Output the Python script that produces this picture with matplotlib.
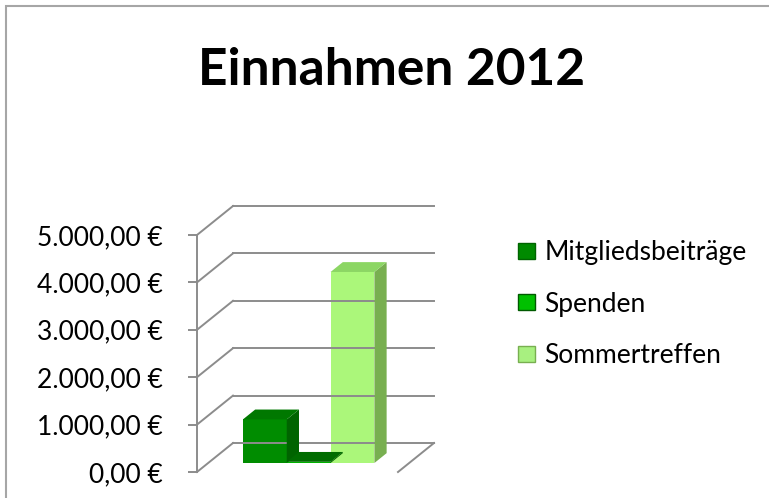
import numpy as np
import matplotlib
matplotlib.use("Agg")
import matplotlib.pyplot as plt
import matplotlib.patches as mpatches
from matplotlib import transforms

# data
series = ["Mitgliedsbeiträge", "Spenden", "Sommertreffen"]
values = [920, 25, 4030]
yticks = [0, 1000, 2000, 3000, 4000, 5000]
ytick_labels = ["0,00 €", "1.000,00 €", "2.000,00 €", "3.000,00 €", "4.000,00 €", "5.000,00 €"]

front_col = ["#008c00", "#00b400", "#abf77a"]
top_col = ["#007800", "#006c00", "#8cd664"]
side_col = ["#006400", "#005a00", "#78af50"]
legend_col = ["#008a00", "#00c000", "#a8f080"]

plt.rcParams["font.family"] = ["Lato", "DejaVu Sans"]

W, H = 769, 498
fig = plt.figure(figsize=(W / 100, H / 100), dpi=100)

# front plane of the 3d box (pixels): x 197..398, value 0 at y=472, 5000 at y=235
ax = fig.add_axes([197 / W, (H - 472) / H, 201 / W, 237 / H])
ax.set_xlim(0, 1)
ax.set_ylim(0, 5000)
ax.patch.set_visible(False)
for s in ["top", "right", "bottom"]:
    ax.spines[s].set_visible(False)
ax.spines["left"].set_color("#8c8c8c")
ax.spines["left"].set_linewidth(1.4)
ax.set_xticks([])
ax.set_yticks(yticks)
ax.set_yticklabels(ytick_labels)
ax.tick_params(axis="y", length=6.5, width=1.4, color="#8c8c8c", pad=18,
               labelsize=19, labelcolor="black")

DEPTH = np.array([36.0, 29.0])  # pixel offset of the back wall


def proj(x, v, d):
    p = ax.transData.transform((x, v)) + d * DEPTH
    return fig.transFigure.inverted().transform(p)


def line(p, q):
    fig.add_artist(plt.Line2D([p[0], q[0]], [p[1], q[1]], color="#8c8c8c",
                              lw=1.4, transform=fig.transFigure, zorder=1))


# walls / gridlines
for v in yticks:
    line(proj(0, v, 0), proj(0, v, 1))
    line(proj(0, v, 1), proj(1.0, v, 1))
line(proj(1.0, 0, 0), proj(1.0, 0, 1))

# bars
f1, f2 = 0.31, 0.65
bw = 0.218
x0 = 0.173
xs = [x0 + i * bw for i in range(len(values))]
off = transforms.offset_copy(ax.transData, fig=fig, x=f1 * DEPTH[0], y=f1 * DEPTH[1], units="dots")

for i, (x, v) in enumerate(zip(xs, values)):
    z = 3 + i
    side = [proj(x + bw, 0, f1), proj(x + bw, 0, f2), proj(x + bw, v, f2), proj(x + bw, v, f1)]
    top = [proj(x, v, f1), proj(x + bw, v, f1), proj(x + bw, v, f2), proj(x, v, f2)]
    fig.add_artist(mpatches.Polygon(side, closed=True, facecolor=side_col[i], edgecolor="none",
                                    transform=fig.transFigure, zorder=z))
    fig.add_artist(mpatches.Polygon(top, closed=True, facecolor=top_col[i], edgecolor="none",
                                    transform=fig.transFigure, zorder=z))
    ax.bar(x, v, width=bw, align="edge", color=front_col[i], transform=off,
           clip_on=False, zorder=z + 0.5)

# title
fig.text(392 / W, 1 - 85 / H, "Einnahmen 2012", ha="center", va="baseline",
         fontsize=37, fontweight="bold")

# legend
handles = [mpatches.Patch(facecolor=c, edgecolor=s, lw=1.0) for c, s in zip(legend_col, side_col)]
fig.legend(handles, series, loc="upper left", bbox_to_anchor=(505 / W, 1 - 227 / H),
           frameon=False, fontsize=19, handlelength=0.65, handleheight=0.55,
           handletextpad=0.35, labelspacing=1.0, borderpad=0)

# chart border
fig.add_artist(mpatches.Rectangle((6 / W, -0.1), 1.2, 1 - 6 / H + 0.1, fill=False,
                                  edgecolor="#a6a6a6", lw=1.5, transform=fig.transFigure))

fig.savefig("out.png", dpi=100)
